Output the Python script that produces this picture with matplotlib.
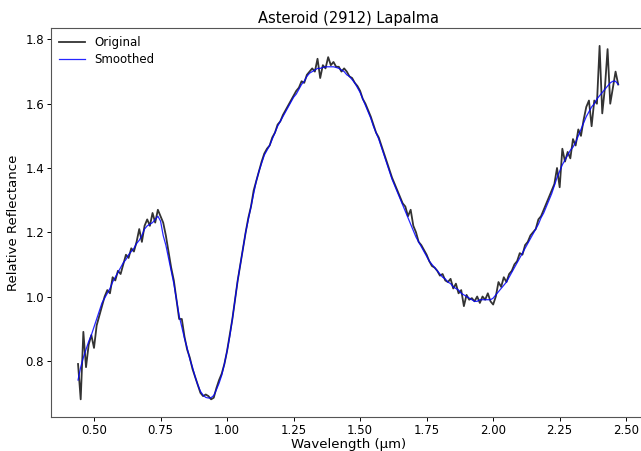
import numpy as np
import matplotlib
matplotlib.use("Agg")
import matplotlib.pyplot as plt

# wavelength grid start / step (um)
wl_start = 0.44
wl_step = 0.01

# original reflectance, one row per 0.10 um
original = [
    0.79, 0.68, 0.89, 0.78, 0.85, 0.88, 0.84, 0.91, 0.94, 0.97,
    1.00, 1.02, 1.01, 1.06, 1.05, 1.08, 1.07, 1.10, 1.13, 1.12,
    1.15, 1.14, 1.17, 1.21, 1.17, 1.22, 1.24, 1.22, 1.26, 1.23,
    1.27, 1.25, 1.23, 1.19, 1.14, 1.09, 1.05, 0.99, 0.93, 0.93,
    0.875, 0.835, 0.81, 0.775, 0.75, 0.725, 0.70, 0.69, 0.695, 0.69,
    0.68, 0.685, 0.715, 0.74, 0.76, 0.79, 0.83, 0.88, 0.93, 0.99,
    1.05, 1.10, 1.15, 1.20, 1.245, 1.28, 1.33, 1.36, 1.39, 1.42,
    1.445, 1.46, 1.47, 1.495, 1.51, 1.535, 1.545, 1.565, 1.58, 1.595,
    1.61, 1.625, 1.64, 1.65, 1.67, 1.665, 1.69, 1.70, 1.71, 1.70,
    1.74, 1.68, 1.72, 1.71, 1.745, 1.72, 1.73, 1.715, 1.715, 1.70,
    1.71, 1.70, 1.685, 1.68, 1.665, 1.655, 1.64, 1.615, 1.60, 1.58,
    1.56, 1.535, 1.51, 1.495, 1.47, 1.445, 1.42, 1.395, 1.37, 1.35,
    1.33, 1.31, 1.29, 1.28, 1.25, 1.27, 1.22, 1.20, 1.17, 1.16,
    1.145, 1.13, 1.11, 1.095, 1.09, 1.08, 1.065, 1.07, 1.05, 1.045,
    1.055, 1.025, 1.04, 1.01, 1.02, 0.97, 1.005, 0.99, 0.995, 0.985,
    1.00, 0.98, 1.00, 0.99, 1.01, 0.985, 0.975, 1.00, 1.045, 1.03,
    1.06, 1.045, 1.07, 1.08, 1.10, 1.11, 1.135, 1.13, 1.16, 1.17,
    1.19, 1.20, 1.21, 1.24, 1.25, 1.27, 1.29, 1.31, 1.33, 1.35,
    1.40, 1.34, 1.46, 1.42, 1.45, 1.43, 1.49, 1.47, 1.52, 1.50,
    1.55, 1.59, 1.61, 1.53, 1.61, 1.60, 1.78, 1.57, 1.65, 1.77,
    1.60, 1.65, 1.70, 1.66,
]

# smoothed reflectance, same grid
smoothed = [
    0.74, 0.78, 0.81, 0.835, 0.86, 0.88, 0.905, 0.93, 0.955, 0.98,
    0.995, 1.01, 1.025, 1.045, 1.06, 1.075, 1.09, 1.105, 1.115, 1.13,
    1.14, 1.15, 1.165, 1.175, 1.19, 1.21, 1.22, 1.225, 1.23, 1.24,
    1.25, 1.235, 1.19, 1.16, 1.12, 1.08, 1.04, 0.99, 0.94, 0.905,
    0.87, 0.84, 0.805, 0.78, 0.75, 0.725, 0.705, 0.693, 0.686, 0.684,
    0.685, 0.692, 0.71, 0.73, 0.755, 0.79, 0.83, 0.875, 0.93, 0.99,
    1.05, 1.10, 1.15, 1.20, 1.24, 1.28, 1.32, 1.36, 1.39, 1.415,
    1.44, 1.455, 1.47, 1.49, 1.51, 1.53, 1.545, 1.56, 1.575, 1.59,
    1.605, 1.62, 1.63, 1.645, 1.66, 1.67, 1.685, 1.695, 1.70, 1.705,
    1.71, 1.71, 1.713, 1.715, 1.715, 1.715, 1.715, 1.713, 1.71, 1.705,
    1.70, 1.69, 1.685, 1.675, 1.665, 1.65, 1.635, 1.615, 1.595, 1.575,
    1.555, 1.53, 1.51, 1.49, 1.465, 1.44, 1.415, 1.39, 1.365, 1.345,
    1.325, 1.305, 1.285, 1.265, 1.245, 1.225, 1.205, 1.185, 1.17, 1.155,
    1.14, 1.125, 1.11, 1.10, 1.09, 1.08, 1.07, 1.06, 1.055, 1.045,
    1.04, 1.03, 1.025, 1.02, 1.01, 1.005, 1.00, 0.995, 0.99, 0.985,
    0.985, 0.99, 0.99, 0.99, 0.99, 0.99, 0.995, 1.005, 1.015, 1.025,
    1.035, 1.045, 1.06, 1.075, 1.09, 1.105, 1.12, 1.135, 1.15, 1.165,
    1.18, 1.195, 1.21, 1.225, 1.245, 1.26, 1.28, 1.30, 1.32, 1.345,
    1.37, 1.39, 1.41, 1.425, 1.44, 1.455, 1.465, 1.48, 1.50, 1.52,
    1.54, 1.56, 1.575, 1.59, 1.60, 1.615, 1.625, 1.635, 1.645, 1.655,
    1.665, 1.67, 1.67, 1.66,
]

wl = wl_start + wl_step * np.arange(len(original))

fig = plt.figure(figsize=(6.41, 4.51), dpi=100)
# axes run slightly past the right edge, as in the reference crop
ax = fig.add_axes([0.0796, 0.0754, 0.927, 0.862])

ax.plot(wl, original, color='black', alpha=0.8, lw=1.3, label='Original')
ax.plot(wl, smoothed, color='blue', lw=0.9, alpha=0.85, label='Smoothed')

ax.set_xticks([0.5, 0.75, 1.0, 1.25, 1.5, 1.75, 2.0, 2.25, 2.5])
ax.set_yticks([0.8, 1.0, 1.2, 1.4, 1.6, 1.8])
ax.tick_params(labelsize=8.5, width=0.7, length=3, pad=2)
for s in ax.spines.values():
    s.set_color('#555555')
    s.set_linewidth(0.8)

ax.set_xlabel('Wavelength (µm)', fontsize=9.5, labelpad=1)
ax.set_ylabel('Relative Reflectance', fontsize=9.5, labelpad=4)
ax.set_title('Asteroid (2912) Lapalma', fontsize=10.5, pad=4)
ax.legend(loc='upper left', frameon=False, fontsize=8.5,
          borderaxespad=0.3, handlelength=2.2, labelspacing=0.3)

fig.savefig("out.png", dpi=100)
